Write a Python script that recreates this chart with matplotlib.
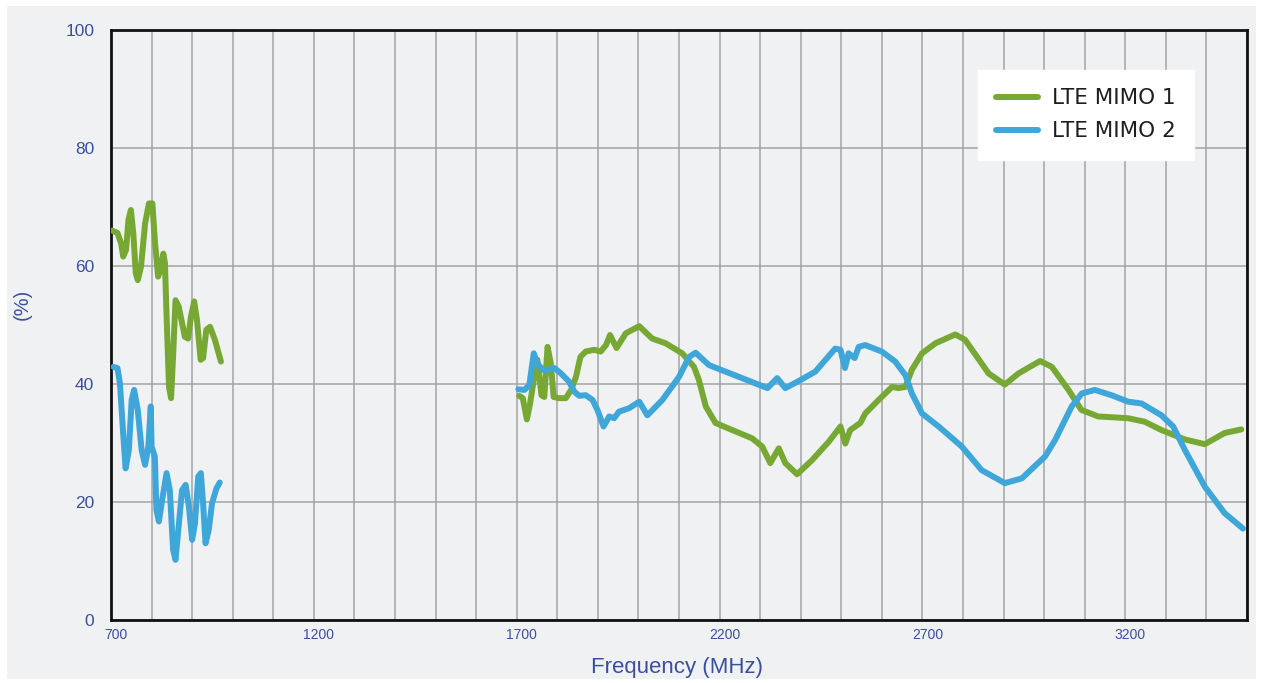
import numpy as np
import matplotlib.pyplot as plt
from matplotlib.patches import Rectangle
from matplotlib.transforms import ScaledTranslation

# ---- data (frequency in MHz, value in %) ----
f_mimo1_low = [703, 716, 725, 730, 737, 743, 749, 755, 761, 766, 774, 784, 793.5, 802, 808, 816, 822,
               829, 833, 837, 843, 848, 853, 859, 867, 882, 890, 897, 905, 912, 921, 927, 935, 944,
               956, 971]
v_mimo1_low = [66.0, 65.6, 63.8, 61.6, 62.7, 67.8, 69.5, 65.5, 58.8, 57.6, 59.9, 67.2, 70.6, 70.6, 64.4,
               58.2, 59.3, 62.1, 60.5, 51.4, 39.5, 37.6, 44.6, 54.2, 53.1, 48.0, 47.7, 51.4, 54.0,
               50.8, 44.1, 44.4, 49.2, 49.7, 47.5, 43.8]

f_mimo2_low = [706, 716, 722, 730, 736, 744, 751, 757, 766, 775.5, 784, 792, 798, 800, 808, 812, 818,
               826, 837, 845, 853, 859, 866, 875, 884, 892, 900, 907, 915, 921.5, 927, 933, 941,
               949, 960, 968]
v_mimo2_low = [42.9, 42.7, 40.1, 31.6, 25.7, 28.8, 37.3, 39.0, 35.6, 28.8, 26.3, 29.4, 36.2, 29.4, 27.7,
               18.6, 16.7, 20.3, 24.9, 22.0, 11.9, 10.2, 15.3, 22.0, 22.9, 19.2, 13.6, 16.4, 24.3,
               24.9, 19.8, 13.0, 15.3, 19.8, 22.3, 23.3]

f_mimo1_high = [1706, 1715, 1725, 1733, 1742, 1751, 1761, 1768, 1776, 1784, 1791, 1805, 1821, 1834,
                1846, 1857, 1870, 1891, 1907, 1920, 1930, 1946, 1969, 2002, 2034, 2067, 2108, 2137,
                2149, 2166, 2190, 2231, 2280, 2305, 2325, 2346, 2362, 2391, 2428, 2469, 2498, 2510,
                2522, 2547, 2559, 2592, 2625, 2641, 2658, 2674, 2699, 2732, 2781, 2805, 2863, 2903,
                2937, 2990, 3019, 3060, 3092, 3133, 3207, 3248, 3289, 3347, 3396, 3445, 3486]
v_mimo1_high = [38.0, 37.6, 34.0, 36.7, 40.7, 44.1, 38.1, 37.8, 46.3, 43.5, 37.8, 37.6, 37.6, 39.0,
                41.2, 44.6, 45.5, 45.8, 45.5, 46.6, 48.3, 46.1, 48.6, 49.8, 47.7, 46.9, 45.2, 42.9,
                40.7, 36.2, 33.4, 32.2, 30.8, 29.4, 26.6, 29.1, 26.6, 24.7, 27.1, 30.2, 32.8, 29.9,
                32.2, 33.4, 35.0, 37.3, 39.5, 39.3, 39.5, 42.4, 45.2, 46.9, 48.4, 47.5, 41.8, 39.9,
                41.8, 43.9, 42.9, 39.0, 35.6, 34.5, 34.2, 33.6, 32.2, 30.6, 29.8, 31.7, 32.3]

f_mimo2_high = [1704, 1719, 1731, 1742, 1751, 1764, 1776, 1793, 1809, 1829, 1842, 1854, 1870, 1887,
                1899, 1914, 1928, 1940, 1952, 1977, 2002, 2022, 2059, 2100, 2125, 2141, 2174, 2248,
                2318, 2342, 2362, 2395, 2436, 2485, 2498, 2509, 2518, 2533, 2543, 2559, 2600, 2633,
                2658, 2674, 2699, 2740, 2797, 2846, 2903, 2945, 3002, 3027, 3068, 3093, 3125, 3166,
                3207, 3240, 3289, 3318, 3347, 3396, 3445, 3490]
v_mimo2_high = [39.1, 39.0, 39.8, 45.2, 43.5, 42.4, 42.4, 42.7, 41.8, 40.4, 38.7, 38.0, 38.1, 37.3,
                35.6, 32.8, 34.5, 34.2, 35.3, 35.9, 37.0, 34.7, 37.3, 41.2, 44.6, 45.3, 43.2, 41.2,
                39.3, 41.0, 39.3, 40.5, 42.1, 46.0, 45.8, 42.7, 45.2, 44.4, 46.3, 46.6, 45.5, 43.8,
                41.5, 38.4, 35.0, 32.8, 29.4, 25.4, 23.2, 24.0, 27.7, 30.5, 36.2, 38.4, 39.0, 38.1,
                37.0, 36.7, 34.7, 32.8, 28.8, 22.6, 18.1, 15.5]

x_ticks = [700, 1200, 1700, 2200, 2700, 3200]
y_ticks = [0, 20, 40, 60, 80, 100]

GREEN = '#77a834'
BLUE = '#3ea6d8'
LABEL_BLUE = '#3a4f9e'
BG = '#f0f1f3'

W, H = 1262, 683
fig = plt.figure(figsize=(W / 100, H / 100), dpi=100, facecolor='white')
fig.patches.append(Rectangle((7 / W, 1 - 679 / H), (1256 - 7) / W, (679 - 6) / H,
                             transform=fig.transFigure, facecolor=BG, edgecolor='none', zorder=-10))

ax = fig.add_axes([111 / W, 1 - 620 / H, (1247 - 111) / W, (620 - 30) / H])
ax.set_facecolor(BG)

lw = 4.3
style = dict(lw=lw, solid_joinstyle='round', solid_capstyle='round', zorder=3)
ax.plot(f_mimo1_low, v_mimo1_low, color=GREEN, label='LTE MIMO 1', **style)
ax.plot(f_mimo1_high, v_mimo1_high, color=GREEN, **style)
ax.plot(f_mimo2_low, v_mimo2_low, color=BLUE, label='LTE MIMO 2', **style)
ax.plot(f_mimo2_high, v_mimo2_high, color=BLUE, **style)

ax.set_xlim(700, 3500)
ax.set_ylim(0, 100)
ax.set_xticks(x_ticks)
ax.set_xticks(np.arange(700, 3501, 100), minor=True)
ax.set_yticks(y_ticks)
ax.grid(True, which='both', axis='x', color='#a3a3a3', lw=1.1)
ax.grid(True, which='major', axis='y', color='#a3a3a3', lw=1.1)
ax.set_axisbelow(True)

ax.tick_params(axis='both', which='both', length=0)
ax.tick_params(axis='x', labelsize=10, labelcolor=LABEL_BLUE, pad=6)
ax.tick_params(axis='y', labelsize=12.5, labelcolor=LABEL_BLUE, pad=12)
for lab in ax.get_xticklabels():
    lab.set_fontfamily('Liberation Sans')
    lab.set_transform(lab.get_transform() + ScaledTranslation(5 / 100, 0, fig.dpi_scale_trans))
for lab in ax.get_yticklabels():
    lab.set_fontfamily('Liberation Sans')

for s in ax.spines.values():
    s.set_color('#111111')
    s.set_linewidth(2)

fig.text(677 / W, 1 - 667 / H, 'Frequency (MHz)', ha='center', va='center', fontsize=16,
         color=LABEL_BLUE, family='Liberation Sans')
fig.text(22 / W, 1 - 304 / H, '(%)', ha='center', va='center', rotation=90, fontsize=14.5,
         color=LABEL_BLUE, family='Liberation Sans')

leg = ax.legend(loc='upper left', bbox_to_anchor=(978 / W, 1 - 70 / H), bbox_transform=fig.transFigure,
                frameon=True, fancybox=False, framealpha=1, edgecolor='white', facecolor='white',
                fontsize=15.5, handlelength=1.95, handletextpad=0.65, borderpad=0.85, labelspacing=0.6,
                borderaxespad=0)
for t in leg.get_texts():
    t.set_color('#1e1e1e')

fig.savefig('out.png', dpi=100, facecolor='white')
